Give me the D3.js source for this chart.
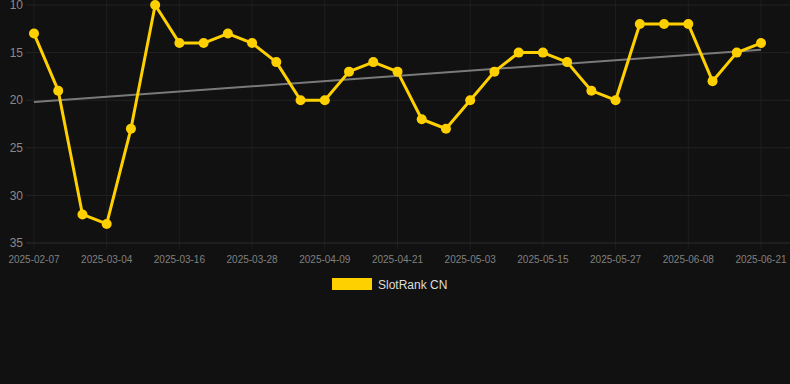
<!DOCTYPE html>
<html><head><meta charset="utf-8">
<script src="https://cdn.jsdelivr.net/npm/d3@7"></script>
<style>html,body{margin:0;padding:0;background:#111111;}svg{display:block;}</style>
</head><body>
<svg id="c" width="790" height="384"></svg>
<script>
const dates = ["2025-02-07","2025-02-15","2025-02-23","2025-03-04","2025-03-08","2025-03-12","2025-03-16","2025-03-20","2025-03-24","2025-03-28","2025-04-01","2025-04-05","2025-04-09","2025-04-13","2025-04-17","2025-04-21","2025-04-25","2025-04-29","2025-05-03","2025-05-07","2025-05-11","2025-05-15","2025-05-19","2025-05-23","2025-05-27","2025-05-31","2025-06-04","2025-06-08","2025-06-12","2025-06-16","2025-06-21"];
const ranks = [13,19,32,33,23,10,14,14,13,14,16,20,20,17,16,17,22,23,20,17,15,15,16,19,20,12,12,12,18,15,14];
const yTicks = [10,15,20,25,30,35];
const seriesName = "SlotRank CN";

(function(){
const svg = d3.select("#c");
const mLeft = 34, mRight = 761, mTop = 5, mBottom = 243;
const x = d3.scalePoint().domain(dates).range([mLeft, mRight]);
const y = d3.scaleLinear().domain([10,35]).range([mTop, mBottom]);
const font = "Liberation Sans, Arial, Helvetica, sans-serif";

// grid
const g = svg.append("g");
const labeled = dates.filter((d,i) => i % 3 === 0);
g.selectAll(".vg").data(labeled).join("line")
  .attr("x1", d => x(d)).attr("x2", d => x(d))
  .attr("y1", 0).attr("y2", mBottom + 6)
  .attr("stroke", "#1e1e1e").attr("stroke-width", 1);
g.selectAll(".hg").data(yTicks).join("line")
  .attr("x1", 26).attr("x2", 790)
  .attr("y1", d => y(d)).attr("y2", d => y(d))
  .attr("stroke", d => d === 35 ? "#2c2c2c" : "#232323").attr("stroke-width", 1);

// y labels
svg.append("g").selectAll("text").data(yTicks).join("text")
  .attr("x", 23).attr("y", d => y(d)).attr("dy", "0.35em")
  .attr("text-anchor", "end").attr("fill", "#8a8a8a")
  .attr("font-family", font).attr("font-size", 12).text(d => d);

// x labels
svg.append("g").selectAll("text").data(labeled).join("text")
  .attr("x", d => x(d)).attr("y", 259).attr("dy", "0.35em")
  .attr("text-anchor", "middle").attr("fill", "#808080")
  .attr("font-family", font).attr("font-size", 10).text(d => d);

// trend line (least squares)
const n = ranks.length;
const xs = d3.range(n);
const mx = d3.mean(xs), my = d3.mean(ranks);
const slope = d3.sum(xs, i => (i-mx)*(ranks[i]-my)) / d3.sum(xs, i => (i-mx)*(i-mx));
const icpt = my - slope*mx;
svg.append("line")
  .attr("x1", x(dates[0])).attr("y1", y(icpt))
  .attr("x2", x(dates[n-1])).attr("y2", y(icpt + slope*(n-1)))
  .attr("stroke", "#7a7a7a").attr("stroke-width", 2);

// series
const line = d3.line().x((d,i) => x(dates[i])).y(d => y(d));
svg.append("path").datum(ranks).attr("d", line)
  .attr("fill", "none").attr("stroke", "#FFD000").attr("stroke-width", 3)
  .attr("stroke-linejoin", "round");
svg.append("g").selectAll("circle").data(ranks).join("circle")
  .attr("cx", (d,i) => x(dates[i])).attr("cy", d => y(d)).attr("r", 5)
  .attr("fill", "#FFD000");

// legend
svg.append("rect").attr("x", 332).attr("y", 278).attr("width", 40).attr("height", 12)
  .attr("fill", "#FFD000");
svg.append("text").attr("x", 378).attr("y", 285).attr("dy", "0.35em")
  .attr("fill", "#dddddd").attr("font-family", font).attr("font-size", 12).text(seriesName);
})();
</script>
</body></html>
